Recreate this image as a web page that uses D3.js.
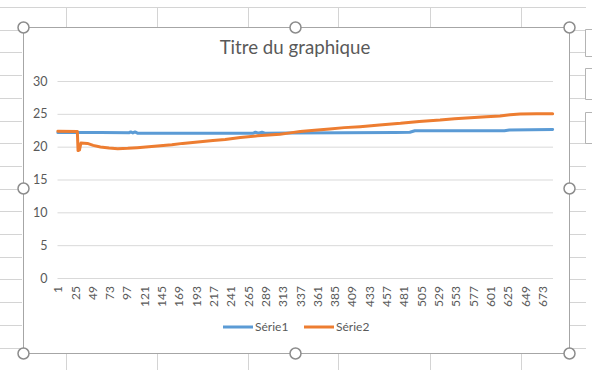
<!DOCTYPE html>
<html>
<head>
<meta charset="utf-8">
<script src="https://cdn.jsdelivr.net/npm/d3@7"></script>
<style>
  body { margin: 0; background: #fff; }
  svg { display: block; }
  text { font-family: Lato, "Open Sans", sans-serif; fill: #595959; }
</style>
</head>
<body>
<svg id="chart" width="603" height="370"></svg>
<script>
// nombre de points sur l'axe des catégories
var nbPoints = 687;
var categories = d3.range(1, nbPoints + 1);
var tickLabels = d3.range(1, nbPoints + 1, 24);
var yTicks = [0, 5, 10, 15, 20, 25, 30];

// [index, valeur]
var serie1 = [
  [1, 22.15], [60, 22.15], [100, 22.13], [102, 22.25], [105, 22.1], [108, 22.25],
  [112, 22.03], [200, 22.03], [272, 22.05], [275, 22.2], [279, 22.05], [284, 22.2],
  [288, 22.05], [323, 22.1], [469, 22.15], [489, 22.2], [496, 22.43], [620, 22.43],
  [627, 22.55], [687, 22.6]
];
var serie2 = [
  [1, 22.35], [28, 22.3], [29, 19.4], [31, 19.5], [33, 20.55], [42, 20.5], [50, 20.2],
  [60, 19.95], [72, 19.8], [84, 19.7], [98, 19.75], [111, 19.85], [127, 20.0],
  [143, 20.15], [159, 20.3], [174, 20.5], [188, 20.65], [202, 20.8], [216, 20.95],
  [233, 21.1], [254, 21.4], [278, 21.65], [309, 21.9], [323, 22.1], [337, 22.3],
  [357, 22.5], [378, 22.7], [398, 22.9], [420, 23.05], [447, 23.3], [476, 23.55],
  [502, 23.85], [531, 24.05], [551, 24.25], [573, 24.4], [595, 24.55], [614, 24.67],
  [628, 24.85], [642, 24.97], [665, 25.0], [687, 25.0]
];
var seriesNames = ["Série1", "Série2"];
var colors = ["#5B9BD5", "#ED7D31"];

var svg = d3.select("#chart");

// fond feuille Excel
var grid = svg.append("g").attr("stroke", "#d4d4d4").attr("stroke-width", 1);
grid.append("line").attr("x1", 0).attr("x2", 586).attr("y1", 7.5).attr("y2", 7.5);
[66, 157, 248, 338, 430, 521].forEach(function (cx) {
  grid.append("line").attr("x1", cx + 0.5).attr("x2", cx + 0.5).attr("y1", 7).attr("y2", 27);
  grid.append("line").attr("x1", cx + 0.5).attr("x2", cx + 0.5).attr("y1", 353).attr("y2", 370);
});
for (var r = 1; r < 17; r++) {
  var ry = Math.round(7 + r * 22.7) + 0.5;
  grid.append("line").attr("x1", 0).attr("x2", 22).attr("y1", ry).attr("y2", ry);
  grid.append("line").attr("x1", 570).attr("x2", 586).attr("y1", ry).attr("y2", ry);
}
// boutons du graphique (coupés à droite)
[[29, 56], [68, 99], [112, 143]].forEach(function (b) {
  svg.append("path")
    .attr("d", "M592," + b[0] + ".5H585.5V" + b[1] + ".5H592")
    .attr("fill", "none").attr("stroke", "#b4b4b4");
});

// cadre du graphique
svg.append("rect")
  .attr("x", 23.5).attr("y", 27.5).attr("width", 546).attr("height", 326)
  .attr("fill", "#fff").attr("stroke", "#a6a6a6").attr("stroke-width", 1);

var plotLeft = 57.5, plotRight = 553, plotTop = 81, plotBottom = 278;

var x = d3.scaleBand().domain(categories).range([plotLeft, plotRight]).padding(0);
var y = d3.scaleLinear().domain([0, 30]).range([plotBottom, plotTop]);

// axe vertical + quadrillage
var yAxis = svg.append("g")
  .attr("transform", "translate(" + plotLeft + ",0)")
  .call(d3.axisLeft(y).tickValues(yTicks).tickSize(-(plotRight - plotLeft)).tickPadding(10));
yAxis.select(".domain").remove();
yAxis.selectAll(".tick line").attr("stroke", "#d9d9d9");
yAxis.selectAll(".tick text").attr("font-size", 12.5).attr("fill", "#595959")
  .style("font-family", "Lato, sans-serif");

// axe des catégories
var xAxis = svg.append("g")
  .attr("transform", "translate(0," + plotBottom + ")")
  .call(d3.axisBottom(x).tickValues(tickLabels).tickSize(0));
xAxis.select(".domain").remove();
xAxis.selectAll(".tick text")
  .attr("transform", "rotate(-90)")
  .attr("text-anchor", "end")
  .attr("x", -8).attr("y", 0).attr("dy", "0.35em")
  .attr("font-size", 12).attr("fill", "#595959")
  .style("font-family", "Lato, sans-serif");

// courbes
var line = d3.line()
  .x(function (d) { return x(d[0]) + x.bandwidth() / 2; })
  .y(function (d) { return y(d[1]); });

[serie1, serie2].forEach(function (s, i) {
  svg.append("path")
    .datum(s)
    .attr("d", line)
    .attr("fill", "none")
    .attr("stroke", colors[i])
    .attr("stroke-width", 3)
    .attr("stroke-linejoin", "round")
    .attr("stroke-linecap", "round");
});

// titre
svg.append("text")
  .attr("x", 295).attr("y", 54)
  .attr("text-anchor", "middle")
  .attr("font-size", 18.7)
  .text("Titre du graphique");

// légende
var legendX = [223, 304];
seriesNames.forEach(function (name, i) {
  svg.append("line")
    .attr("x1", legendX[i]).attr("x2", legendX[i] + 30)
    .attr("y1", 327).attr("y2", 327)
    .attr("stroke", colors[i]).attr("stroke-width", 3);
  svg.append("text")
    .attr("x", legendX[i] + 32).attr("y", 331)
    .attr("font-size", 12)
    .text(name);
});

// poignées de sélection
var handles = [[23.5, 27.5], [295.5, 27.5], [569.5, 27.5], [23.5, 188.5], [569.5, 188.5],
               [23.5, 353.5], [295.5, 353.5], [569.5, 353.5]];
svg.selectAll("circle.handle").data(handles).enter().append("circle")
  .attr("class", "handle")
  .attr("cx", function (d) { return d[0]; })
  .attr("cy", function (d) { return d[1]; })
  .attr("r", 5.5)
  .attr("fill", "#fff")
  .attr("stroke", "#8c8c8c")
  .attr("stroke-width", 1.5);
</script>
</body>
</html>
